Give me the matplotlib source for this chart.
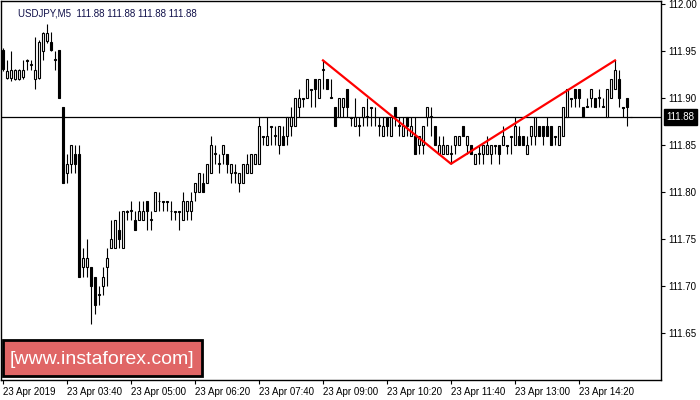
import numpy as np
import matplotlib
matplotlib.use("Agg")
import matplotlib.pyplot as plt
from matplotlib.patches import Rectangle

plt.rcParams["font.family"] = ["Liberation Sans", "DejaVu Sans"]

# USDJPY M5 candles (bar 0 = 02:20)
opens = [
    111.951, 111.921, 111.921, 111.92, 111.92, 111.922, 111.94, 111.935, 111.92, 111.921,
    111.95, 111.961, 111.96, 111.94, 111.951, 111.89, 111.82, 111.83, 111.84, 111.84,
    111.72, 111.72, 111.72, 111.71, 111.69, 111.70, 111.72, 111.74, 111.74, 111.76,
    111.74, 111.78, 111.78, 111.77, 111.77, 111.77, 111.79, 111.77, 111.78, 111.79,
    111.79, 111.79, 111.78, 111.78, 111.78, 111.77, 111.78, 111.78, 111.80, 111.80,
    111.81, 111.81, 111.82, 111.84, 111.83, 111.84, 111.84, 111.82, 111.82, 111.81,
    111.81, 111.82, 111.82, 111.83, 111.83, 111.86, 111.85, 111.87, 111.86, 111.85,
    111.86, 111.86, 111.87, 111.87, 111.89, 111.90, 111.90, 111.91, 111.92, 111.90,
    111.93, 111.92, 111.90, 111.89, 111.88, 111.89, 111.91, 111.88, 111.87, 111.87,
    111.88, 111.88, 111.89, 111.88, 111.87, 111.86, 111.88, 111.86, 111.89, 111.87,
    111.86, 111.88, 111.86, 111.86, 111.85, 111.85, 111.88, 111.88, 111.87, 111.84,
    111.84, 111.84, 111.84, 111.85, 111.85, 111.87, 111.85, 111.85, 111.83, 111.84,
    111.84, 111.84, 111.84, 111.85, 111.85, 111.85, 111.85, 111.86, 111.85, 111.86,
    111.86, 111.84, 111.86, 111.86, 111.87, 111.87, 111.87, 111.87, 111.86, 111.85,
    111.86, 111.88, 111.90, 111.91, 111.91, 111.89, 111.89, 111.90, 111.90, 111.90,
    111.89, 111.88, 111.90, 111.91, 111.92, 111.89, 111.90, 111.88]
highs = [
    111.953, 111.94, 111.95, 111.931, 111.931, 111.94, 111.941, 111.94, 111.965, 111.962,
    111.97, 111.979, 111.97, 111.95, 111.951, 111.89, 111.84, 111.85, 111.85, 111.85,
    111.74, 111.75, 111.72, 111.71, 111.70, 111.72, 111.74, 111.77, 111.77, 111.78,
    111.78, 111.781, 111.79, 111.78, 111.79, 111.79, 111.79, 111.78, 111.80, 111.80,
    111.79, 111.79, 111.79, 111.78, 111.78, 111.80, 111.79, 111.80, 111.81, 111.82,
    111.82, 111.83, 111.86, 111.85, 111.84, 111.85, 111.84, 111.83, 111.83, 111.82,
    111.83, 111.84, 111.84, 111.84, 111.88, 111.86, 111.88, 111.87, 111.87, 111.87,
    111.87, 111.88, 111.89, 111.90, 111.91, 111.90, 111.92, 111.91, 111.92, 111.92,
    111.94, 111.92, 111.92, 111.89, 111.90, 111.90, 111.91, 111.88, 111.90, 111.88,
    111.89, 111.90, 111.89, 111.89, 111.88, 111.88, 111.88, 111.88, 111.89, 111.88,
    111.88, 111.88, 111.88, 111.88, 111.86, 111.87, 111.89, 111.89, 111.87, 111.86,
    111.86, 111.85, 111.85, 111.86, 111.86, 111.87, 111.86, 111.85, 111.84, 111.85,
    111.85, 111.86, 111.85, 111.85, 111.85, 111.87, 111.85, 111.86, 111.88, 111.87,
    111.86, 111.86, 111.87, 111.88, 111.87, 111.87, 111.88, 111.87, 111.86, 111.87,
    111.89, 111.91, 111.90, 111.91, 111.91, 111.89, 111.90, 111.91, 111.90, 111.91,
    111.90, 111.91, 111.92, 111.94, 111.93, 111.89, 111.90, 111.88]
lows = [
    111.929, 111.92, 111.918, 111.919, 111.919, 111.92, 111.93, 111.93, 111.91, 111.92,
    111.94, 111.958, 111.95, 111.93, 111.90, 111.81, 111.81, 111.82, 111.82, 111.71,
    111.71, 111.71, 111.66, 111.67, 111.68, 111.69, 111.70, 111.74, 111.74, 111.74,
    111.74, 111.77, 111.77, 111.76, 111.77, 111.77, 111.76, 111.76, 111.78, 111.78,
    111.78, 111.78, 111.77, 111.77, 111.76, 111.77, 111.77, 111.77, 111.79, 111.80,
    111.80, 111.81, 111.82, 111.83, 111.82, 111.83, 111.82, 111.81, 111.81, 111.80,
    111.81, 111.82, 111.82, 111.83, 111.83, 111.85, 111.85, 111.85, 111.85, 111.84,
    111.85, 111.85, 111.86, 111.87, 111.88, 111.89, 111.90, 111.89, 111.89, 111.90,
    111.91, 111.91, 111.90, 111.87, 111.88, 111.88, 111.88, 111.87, 111.87, 111.86,
    111.87, 111.87, 111.87, 111.87, 111.86, 111.86, 111.86, 111.86, 111.87, 111.86,
    111.86, 111.86, 111.86, 111.84, 111.84, 111.84, 111.87, 111.86, 111.85, 111.84,
    111.84, 111.84, 111.83, 111.84, 111.85, 111.86, 111.84, 111.84, 111.83, 111.83,
    111.83, 111.84, 111.83, 111.84, 111.83, 111.85, 111.84, 111.84, 111.85, 111.85,
    111.85, 111.84, 111.85, 111.85, 111.86, 111.85, 111.86, 111.85, 111.85, 111.85,
    111.86, 111.88, 111.89, 111.89, 111.89, 111.88, 111.89, 111.89, 111.89, 111.89,
    111.89, 111.88, 111.90, 111.91, 111.89, 111.88, 111.87, 111.88]
closes = [
    111.931, 111.929, 111.93, 111.93, 111.93, 111.93, 111.939, 111.936, 111.93, 111.96,
    111.969, 111.969, 111.951, 111.941, 111.90, 111.81, 111.83, 111.85, 111.83, 111.71,
    111.73, 111.73, 111.70, 111.68, 111.691, 111.71, 111.73, 111.75, 111.77, 111.75,
    111.78, 111.779, 111.781, 111.76, 111.78, 111.78, 111.78, 111.771, 111.80, 111.79,
    111.789, 111.789, 111.78, 111.779, 111.779, 111.79, 111.79, 111.79, 111.81, 111.82,
    111.80, 111.83, 111.85, 111.841, 111.831, 111.85, 111.83, 111.83, 111.821, 111.82,
    111.83, 111.83, 111.84, 111.84, 111.87, 111.859, 111.86, 111.869, 111.861, 111.87,
    111.85, 111.88, 111.88, 111.90, 111.90, 111.899, 111.92, 111.909, 111.91, 111.92,
    111.931, 111.91, 111.901, 111.87, 111.90, 111.90, 111.89, 111.879, 111.88, 111.871,
    111.89, 111.881, 111.889, 111.88, 111.871, 111.87, 111.87, 111.88, 111.88, 111.871,
    111.87, 111.87, 111.87, 111.84, 111.86, 111.87, 111.89, 111.881, 111.85, 111.85,
    111.85, 111.85, 111.841, 111.86, 111.86, 111.86, 111.86, 111.84, 111.84, 111.841,
    111.85, 111.85, 111.85, 111.849, 111.84, 111.86, 111.849, 111.859, 111.87, 111.85,
    111.85, 111.85, 111.87, 111.88, 111.86, 111.86, 111.86, 111.85, 111.859, 111.87,
    111.89, 111.91, 111.899, 111.90, 111.90, 111.88, 111.891, 111.91, 111.89, 111.901,
    111.891, 111.91, 111.92, 111.93, 111.90, 111.889, 111.89, 111.88]

last_price = 111.88
# double top pattern: peak, trough, peak (bar index, price)
pattern_bars = [80, 112, 153]
pattern_prices = [111.94, 111.83, 111.94]

price_ticks = [111.65, 111.70, 111.75, 111.80, 111.85, 111.90, 111.95, 112.00]
time_tick_bars = [0, 16, 32, 48, 64, 80, 96, 112, 128, 144]
time_labels = ["23 Apr 2019", "23 Apr 03:40", "23 Apr 05:00", "23 Apr 06:20",
               "23 Apr 07:40", "23 Apr 09:00", "23 Apr 10:20", "23 Apr 11:40",
               "23 Apr 13:00", "23 Apr 14:20"]

o = np.array(opens)
h = np.array(highs)
l = np.array(lows)
c = np.array(closes)
x = np.arange(len(o))
up = c >= o

fig = plt.figure(figsize=(7, 4), dpi=100)
ax = fig.add_axes([1 / 700, 20 / 400, 660 / 700, 379 / 400])

ax.axhline(last_price, color="black", lw=0.9, zorder=1)

# wicks then bodies
ax.vlines(x, l, h, color="black", lw=0.8, zorder=2)
body_low = np.minimum(o, c)
body_h = np.abs(c - o)
ax.bar(x[up], body_h[up], bottom=body_low[up], width=0.6,
       color="white", edgecolor="black", lw=0.8, zorder=3)
ax.bar(x[~up], body_h[~up], bottom=body_low[~up], width=0.6,
       color="black", edgecolor="black", lw=0.8, zorder=3)

ax.plot(pattern_bars, pattern_prices, color="red", lw=1.6, zorder=4)

ax.set_xlim(-0.5, 164.5)
ax.set_ylim(111.60, 112.0032)

ax.yaxis.tick_right()
ax.set_yticks(price_ticks)
ax.set_yticklabels([f"{p:.2f}" for p in price_ticks])
ax.set_xticks(time_tick_bars)
ax.set_xticklabels(time_labels)
for lab in ax.get_xticklabels():
    lab.set_horizontalalignment("left")
ax.tick_params(axis="both", direction="out", length=3, width=0.8,
               labelsize=7, colors="black", pad=2)
for s in ax.spines.values():
    s.set_color("black")
    s.set_linewidth(1)

# current price marker on the price scale
ax.annotate(f"{last_price:.2f}", xy=(1.0, last_price),
            xycoords=("axes fraction", "data"), xytext=(4, 0),
            textcoords="offset points", ha="left", va="center",
            fontsize=7, color="white",
            bbox=dict(boxstyle="square,pad=0.3", fc="black", ec="black"))

fig.text(18 / 700, 1 - 13 / 400, "USDJPY,M5  111.88 111.88 111.88 111.88",
         fontsize=7, color="#10104a", va="center", ha="left")

# watermark box
fig.add_artist(Rectangle((3 / 700, 1 - 376 / 400), 199 / 700, 36 / 400,
                         transform=fig.transFigure, facecolor="#e06666",
                         edgecolor="black", lw=2, zorder=5))
fig.text(102 / 700, 1 - 359 / 400, "[www.instaforex.com]",
         fontsize=14, color="white", ha="center", va="center", zorder=6)

fig.savefig("out.png", dpi=100)
plt.close(fig)
